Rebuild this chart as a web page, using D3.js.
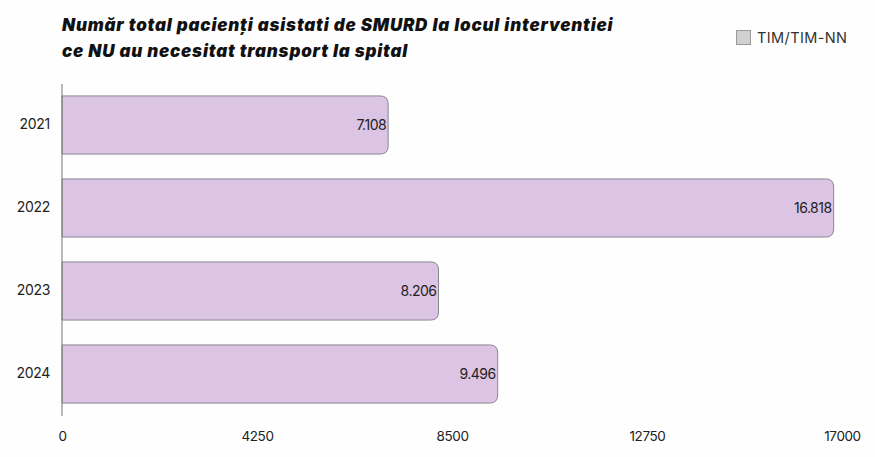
<!DOCTYPE html>
<html><head><meta charset="utf-8">
<script src="https://cdn.jsdelivr.net/npm/d3@7"></script>
<style>body{margin:0;background:#fff;}svg{display:block;}</style>
</head><body>
<script>
const years = ["2021","2022","2023","2024"];
const values = [7108, 16818, 8206, 9496];
const valueLabels = ["7.108","16.818","8.206","9.496"];
const tickValues = [0, 4250, 8500, 12750, 17000];
const title = ["Număr total pacienți asistati de SMURD la locul interventiei", "ce NU au necesitat transport la spital"];
const legendLabel = "TIM/TIM-NN";

const W = 875, H = 457;
const svg = d3.select("body").append("svg").attr("width", W).attr("height", H);
svg.append("rect").attr("width", W).attr("height", H).attr("fill", "#fefefe");

const x = d3.scaleLinear().domain([0, 17000]).range([62, 842]);
const y = d3.scaleBand().domain(years).range([83.5, 415.5]).paddingInner(0.3).paddingOuter(0.15);

const font = "Inter, 'Noto Sans', sans-serif";

// title
svg.append("g").selectAll("text").data(title).join("text")
  .attr("x", 62).attr("y", (d, i) => 31 + i * 26)
  .attr("font-family", font).attr("font-weight", 900).attr("font-style", "italic")
  .attr("font-size", 17).attr("fill", "#111").attr("letter-spacing", 0.8)
  .text(d => d);

// legend
svg.append("rect").attr("x", 736.5).attr("y", 30.5).attr("width", 14).attr("height", 14)
  .attr("fill", "#d0d0d0").attr("stroke", "#999").attr("stroke-width", 1);
svg.append("text").attr("x", 757).attr("y", 43).attr("font-family", font)
  .attr("font-size", 14.5).attr("fill", "#333").attr("letter-spacing", 0.4).text(legendLabel);

// bars
const r = 8;
function barPath(x0, x1, y0, h) {
  const rr = Math.min(r, (x1 - x0));
  return `M${x0},${y0}H${x1 - rr}Q${x1},${y0} ${x1},${y0 + rr}V${y0 + h - rr}Q${x1},${y0 + h} ${x1 - rr},${y0 + h}H${x0}Z`;
}
const bars = svg.append("g");
bars.selectAll("path").data(years).join("path")
  .attr("d", (d, i) => barPath(x(0), x(values[i]), y(d), y.bandwidth()))
  .attr("fill", "#dcc4e4").attr("stroke", "#8a8590").attr("stroke-width", 1);

bars.selectAll("text").data(years).join("text")
  .attr("x", (d, i) => x(values[i]) - 2)
  .attr("y", d => y(d) + y.bandwidth() / 2 + 5)
  .attr("text-anchor", "end").attr("font-family", font).attr("font-size", 14)
  .attr("fill", "#222").attr("letter-spacing", -0.5)
  .text((d, i) => valueLabels[i]);

// y axis
const yAxis = svg.append("g").attr("transform", `translate(${x(0)},0)`)
  .call(d3.axisLeft(y).tickSize(0).tickPadding(12));
yAxis.select(".domain").attr("stroke", "#777").attr("d", `M0,84V416`);
yAxis.selectAll("text").attr("font-family", font).attr("font-size", 14).attr("fill", "#222").attr("letter-spacing", -0.3);

// x axis
const xAxis = svg.append("g").attr("transform", `translate(0,${421})`)
  .call(d3.axisBottom(x).tickValues(tickValues).tickFormat(d3.format("d")).tickSize(0).tickPadding(10));
xAxis.select(".domain").remove();
xAxis.selectAll("text").attr("font-family", font).attr("font-size", 13.5).attr("fill", "#222").attr("letter-spacing", -0.4);
</script>
</body></html>
